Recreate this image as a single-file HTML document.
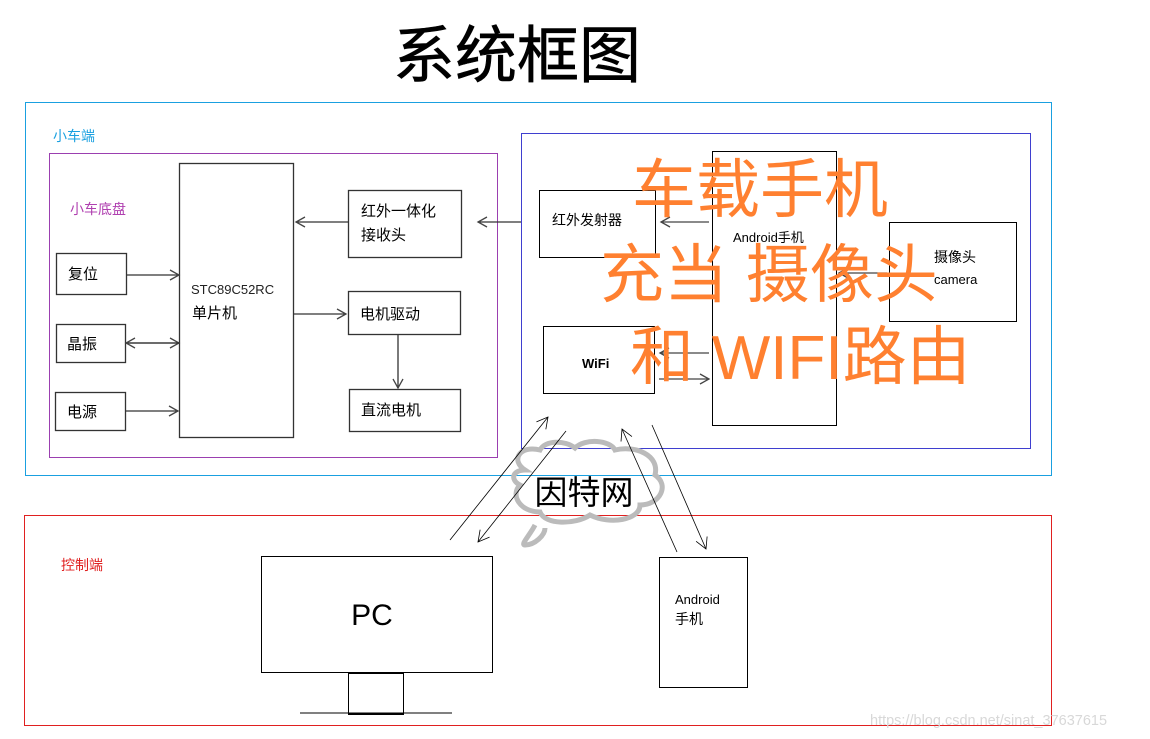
<!DOCTYPE html>
<html><head><meta charset="utf-8"><style>
body{margin:0;background:#fff}
svg{display:block}
text{font-family:"Liberation Sans","Noto Sans CJK SC",sans-serif}
</style></head><body>
<svg width="1150" height="739" viewBox="0 0 1150 739" xmlns="http://www.w3.org/2000/svg">
<defs>
<marker id="a" markerWidth="12" markerHeight="12" refX="10" refY="6" orient="auto" markerUnits="userSpaceOnUse"><path d="M1,1 L10,6 L1,11" fill="none" stroke="#444" stroke-width="1.3"/></marker>
<marker id="b" markerWidth="14" markerHeight="14" refX="12" refY="7" orient="auto" markerUnits="userSpaceOnUse"><path d="M1,1 L12,7 L1,13" fill="none" stroke="#000" stroke-width="0.8"/></marker>
</defs>
<text x="517" y="77" font-size="62" text-anchor="middle" fill="#000" stroke="#000" stroke-width="0.6">系统框图</text>
<rect x="25.5" y="102.5" width="1026" height="373" fill="none" stroke="#1aa0e0"/>
<text x="53" y="141" font-size="14" fill="#1aa0e0">小车端</text>
<rect x="49.5" y="153.5" width="448" height="304" fill="none" stroke="#9b3fb0"/>
<text x="70" y="214" font-size="14" fill="#b040b0">小车底盘</text>
<g fill="none" stroke="#333" stroke-width="1.3">
<rect x="179.5" y="163.5" width="114" height="274"/>
<rect x="56.5" y="253.5" width="70" height="41"/>
<rect x="56.5" y="324.5" width="69" height="38"/>
<rect x="55.5" y="392.5" width="70" height="38"/>
<rect x="348.5" y="190.5" width="113" height="67"/>
<rect x="348.5" y="291.5" width="112" height="43"/>
<rect x="349.5" y="389.5" width="111" height="42"/>
<line x1="127" y1="275" x2="179" y2="275" marker-end="url(#a)"/>
<line x1="126" y1="343" x2="179" y2="343" marker-end="url(#a)"/>
<line x1="179" y1="343" x2="126" y2="343" marker-end="url(#a)"/>
<line x1="125" y1="411" x2="178" y2="411" marker-end="url(#a)"/>
<line x1="348" y1="222" x2="296" y2="222" marker-end="url(#a)"/>
<line x1="293" y1="314" x2="346" y2="314" marker-end="url(#a)"/>
<line x1="398" y1="335" x2="398" y2="388" marker-end="url(#a)"/>
<line x1="521" y1="222" x2="478" y2="222" marker-end="url(#a)"/>
</g>
<g font-size="15" fill="#000">
<text x="68" y="279">复位</text>
<text x="67" y="349">晶振</text>
<text x="67" y="417">电源</text>
<text x="191" y="294" font-size="13" fill="#222">STC89C52RC</text>
<text x="192" y="318">单片机</text>
<text x="361" y="216">红外一体化</text>
<text x="361" y="240">接收头</text>
<text x="360" y="319">电机驱动</text>
<text x="361" y="415">直流电机</text>
</g>
<rect x="521.5" y="133.5" width="509" height="315" fill="none" stroke="#3f3fcf"/>
<g fill="none" stroke="#000" stroke-width="1">
<rect x="539.5" y="190.5" width="116" height="67"/>
<rect x="712.5" y="151.5" width="124" height="274"/>
<rect x="889.5" y="222.5" width="127" height="99"/>
<rect x="543.5" y="326.5" width="111" height="67"/>
</g>
<g stroke="#444" stroke-width="1.3">
<line x1="709" y1="222" x2="661" y2="222" marker-end="url(#a)"/>
<line x1="887" y1="273" x2="839" y2="273" marker-end="url(#a)"/>
<line x1="709" y1="353" x2="660" y2="353" marker-end="url(#a)"/>
<line x1="659" y1="379" x2="709" y2="379" marker-end="url(#a)"/>
</g>
<g font-size="14" fill="#000">
<text x="552" y="225">红外发射器</text>
<text x="733" y="242" font-family="Liberation Mono,Noto Sans CJK SC,monospace" font-size="13">Android手机</text>
<text x="934" y="262">摄像头</text>
<text x="934" y="284" font-family="Liberation Mono,monospace" font-size="13">camera</text>
<text x="582" y="368" font-family="Liberation Mono,monospace" font-size="13" font-weight="bold">WiFi</text>
</g>
<g font-size="64" fill="#ff8030" font-family="Liberation Serif,Noto Serif CJK SC,serif">
<text x="632" y="212">车载手机</text>
<text x="600" y="297">充当  摄像头</text>
<text x="630" y="379">和 <tspan font-size="62">WIFI</tspan>路由</text>
</g>
<rect x="24.5" y="515.5" width="1027" height="210" fill="none" stroke="#e02020"/>
<text x="61" y="570" font-size="14" fill="#e02020">控制端</text>
<g fill="none" stroke="#000" stroke-width="1">
<rect x="261.5" y="556.5" width="231" height="116"/>
<rect x="348.5" y="673.5" width="55" height="40"/>
<line x1="300" y1="713" x2="452" y2="713"/>
<line x1="348" y1="714" x2="404" y2="714" stroke-width="2"/>
<rect x="659.5" y="557.5" width="88" height="130"/>
</g>
<text x="372" y="625" font-size="30" text-anchor="middle">PC</text>
<text x="675" y="604" font-size="13" font-family="Liberation Mono,monospace">Android</text>
<text x="675" y="624" font-size="14">手机</text>
<path d="M525,470 C510,460 520,445 540,450 C545,440 565,440 575,448 C585,438 610,440 615,450 C635,445 660,455 655,475 C670,485 660,505 640,505 C640,520 610,525 590,515 C575,525 545,525 540,512 C520,512 510,495 520,485 C510,480 512,470 525,470 Z M535,525 C530,535 520,545 525,545 C535,545 545,535 545,528" fill="none" stroke="#bbb" stroke-width="5"/>
<text x="584" y="504" font-size="33" text-anchor="middle" font-family="Noto Serif CJK SC,serif" fill="#000">因特网</text>
<g stroke="#000" stroke-width="0.8">
<line x1="450" y1="540" x2="548" y2="417" marker-end="url(#b)"/>
<line x1="566" y1="431" x2="478" y2="542" marker-end="url(#b)"/>
<line x1="677" y1="552" x2="622" y2="429" marker-end="url(#b)"/>
<line x1="652" y1="425" x2="706" y2="549" marker-end="url(#b)"/>
</g>
<text x="870" y="725" font-size="14.5" fill="#d8d8d8">https://blog.csdn.net/sinat_37637615</text>
</svg>
</body></html>
